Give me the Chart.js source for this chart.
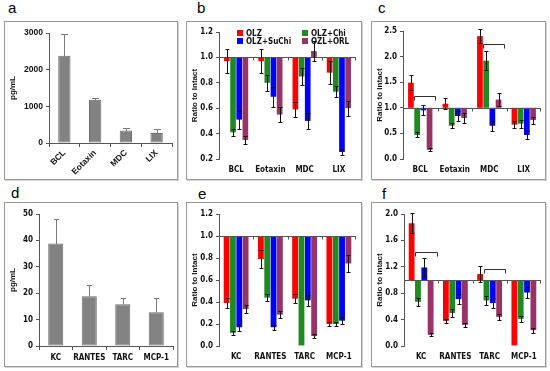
<!DOCTYPE html>
<html><head><meta charset="utf-8">
<script src="https://cdn.jsdelivr.net/npm/chart.js@4.4.0/dist/chart.umd.min.js"></script>
<style>
body{margin:0;background:#fff;width:550px;height:371px;position:relative;overflow:hidden;font-family:"Liberation Sans",Arial,sans-serif}
.box{position:absolute;border:1px solid #9a9a9a;box-sizing:border-box;box-shadow:1px 1px 0 #d4d4d4;background:#fff}
.box canvas{display:block}
.lab{position:absolute;font-size:15px;line-height:15px;color:#000}
</style></head><body>
<div class="lab" style="left:8px;top:0px">a</div>
<div class="lab" style="left:197px;top:0px">b</div>
<div class="lab" style="left:378px;top:0px">c</div>
<div class="lab" style="left:11px;top:185px">d</div>
<div class="lab" style="left:198px;top:186px">e</div>
<div class="lab" style="left:382px;top:186px">f</div>
<script>
// ---------- DATA ----------
const catTop = ['BCL', 'Eotaxin', 'MDC', 'LIX'];
const catBottom = ['KC', 'RANTES', 'TARC', 'MCP-1'];
const groups = ['OLZ', 'OLZ+Chi', 'OLZ+SuChi', 'OZL+ORL'];

const aValues = [2380, 1180, 340, 270];
const aErr = [590, 60, 60, 100];
const dValues = [38.8, 18.8, 15.8, 12.8];
const dErr = [9.2, 4.2, 2.2, 5.2];

// panel b (rows: OLZ, OLZ+Chi, OLZ+SuChi, OZL+ORL)
const bValues = [[0.97, 0.97, 0.59, 0.88], [0.41, 0.80, 0.85, 0.73], [0.51, 0.69, 0.50, 0.255], [0.35, 0.55, 1.05, 0.60]];
const bErr = [[0.095, 0.095, 0.06, 0.09], [0.03, 0.065, 0.07, 0.045], [0.07, 0.08, 0.06, 0.025], [0.035, 0.06, 0.08, 0.06]];
// panel c
const cValues = [[1.49, 1.08, 2.40, 0.67], [0.47, 0.65, 1.92, 0.69], [0.95, 0.84, 0.65, 0.47], [0.18, 0.80, 1.16, 0.76]];
const cErr = [[0.15, 0.11, 0.14, 0.07], [0.05, 0.05, 0.18, 0.08], [0.1, 0.1, 0.1, 0.07], [0.03, 0.09, 0.13, 0.07]];
// panel e
const eValues = [[0.39, 0.79, 0.43, 0.20], [0.12, 0.44, 0.005, 0.20], [0.17, 0.17, 0.415, 0.23], [0.335, 0.285, 0.09, 0.75]];
const eErr = [[0.045, 0.085, 0.04, 0.02], [0.02, 0.035, 0, 0.02], [0.03, 0.025, 0.05, 0.03], [0.035, 0.03, 0.015, 0.08]];
// panel f
const fValues = [[1.86, 0.38, 1.09, 0.0], [0.67, 0.50, 0.69, 0.41], [1.19, 0.71, 0.65, 0.81], [0.17, 0.32, 0.44, 0.24]];
const fErr = [[0.15, 0.03, 0.12, 0], [0.06, 0.06, 0.07, 0.04], [0.15, 0.08, 0.08, 0.09], [0.02, 0.03, 0.05, 0.04]];

// significance brackets: category index, from group, to group, height value
const cBrackets = [{cat: 0, from: 1, to: 3, y: 1.24}, {cat: 2, from: 1, to: 3, y: 2.25}];
const fBrackets = [{cat: 0, from: 1, to: 3, y: 1.43}, {cat: 2, from: 1, to: 3, y: 1.16}];

const yTicksA = {min: 0, max: 3000, step: 1000};
const yTicksB = {min: 0.2, max: 1.2, step: 0.2};
const yTicksC = {min: 0, max: 2.5, step: 0.5};
const yTicksD = {min: 0, max: 50, step: 10};
const yTicksE = {min: 0, max: 1.2, step: 0.2};
const yTicksF = {min: 0, max: 2.0, step: 0.4};

// ---------- STYLE ----------
const groupColors = ['#ff0000', '#1f8a1f', '#0000ff', '#993366'];
const NARROW = "'Liberation Sans Narrow','DejaVu Sans Condensed','Liberation Sans',Arial,sans-serif";
const WIDE = "'Liberation Sans',Arial,sans-serif";
const AX = '#555';
const TXT = '#111';

function makeBox(x, y, w, h) {
  const d = document.createElement('div');
  d.className = 'box';
  Object.assign(d.style, {left: x + 'px', top: y + 'px', width: w + 'px', height: h + 'px'});
  const c = document.createElement('canvas');
  c.width = w - 2; c.height = h - 2;
  c.style.width = (w - 2) + 'px'; c.style.height = (h - 2) + 'px';
  d.appendChild(c);
  document.body.appendChild(d);
  return c;
}

const errorBars = {
  id: 'errbars',
  afterDatasetsDraw(chart) {
    const ctx = chart.ctx, ys = chart.scales.y;
    chart.data.datasets.forEach((ds, di) => {
      if (!ds.err) return;
      const meta = chart.getDatasetMeta(di);
      meta.data.forEach((bar, i) => {
        const e = ds.err[i];
        if (!e) return;
        const raw = ds.data[i];
        const v = Array.isArray(raw) ? raw[1] : raw;
        const yT = Math.round(ys.getPixelForValue(v + e)) + 0.5;
        const yB = Math.round(ys.getPixelForValue(ds.upOnly ? v : v - e)) + 0.5;
        const x = Math.round(bar.x) + 0.5, cw = ds.capW;
        ctx.save();
        ctx.strokeStyle = ds.errColor; ctx.lineWidth = 1;
        ctx.beginPath();
        ctx.moveTo(x, yT); ctx.lineTo(x, yB);
        ctx.moveTo(x - cw / 2, yT); ctx.lineTo(x + cw / 2, yT);
        if (!ds.upOnly) { ctx.moveTo(x - cw / 2, yB); ctx.lineTo(x + cw / 2, yB); }
        ctx.stroke();
        ctx.restore();
      });
    });
  }
};

function baselinePlugin(value) {
  return {
    id: 'baseline',
    afterDatasetsDraw(chart) {
      const ctx = chart.ctx, ys = chart.scales.y, xs = chart.scales.x, ca = chart.chartArea;
      const y = Math.round(ys.getPixelForValue(value)) + 0.5;
      ctx.save();
      ctx.strokeStyle = AX; ctx.lineWidth = 1;
      ctx.beginPath();
      ctx.moveTo(ca.left, y); ctx.lineTo(ca.right, y);
      const n = chart.data.labels.length;
      for (let i = 1; i < n; i++) {
        const xb = Math.round((xs.getPixelForValue(i - 1) + xs.getPixelForValue(i)) / 2) + 0.5;
        ctx.moveTo(xb, y); ctx.lineTo(xb, y + 3);
      }
      ctx.moveTo(Math.round(ca.right) - 0.5, y); ctx.lineTo(Math.round(ca.right) - 0.5, y + 3);
      ctx.stroke();
      ctx.restore();
    }
  };
}

function bracketPlugin(items) {
  return {
    id: 'brackets',
    afterDatasetsDraw(chart) {
      const ctx = chart.ctx, ys = chart.scales.y;
      ctx.save();
      ctx.strokeStyle = '#333'; ctx.lineWidth = 1;
      items.forEach(b => {
        const b1 = chart.getDatasetMeta(b.from).data[b.cat];
        const b2 = chart.getDatasetMeta(b.to).data[b.cat];
        const x1 = Math.round(b1.x - b1.width / 2) + 0.5;
        const x2 = Math.round(b2.x + b2.width / 2 + 3) + 0.5;
        const y = Math.round(ys.getPixelForValue(b.y)) + 0.5;
        ctx.beginPath();
        ctx.moveTo(x1, y + 4); ctx.lineTo(x1, y); ctx.lineTo(x2, y); ctx.lineTo(x2, y + 4);
        ctx.stroke();
      });
      ctx.restore();
    }
  };
}

const insideLegend = {
  id: 'insideLegend',
  afterDraw(chart) {
    const ctx = chart.ctx, ca = chart.chartArea;
    ctx.save();
    ctx.font = "bold 8px " + NARROW;
    ctx.textBaseline = 'middle';
    chart.data.datasets.forEach((ds, i) => {
      const col = i % 2, row = Math.floor(i / 2);
      const x = ca.left + 18 + col * 65, y = ca.top + 1 + row * 8;
      ctx.fillStyle = ds.backgroundColor;
      ctx.fillRect(x, y - 3, 6, 6);
      ctx.fillStyle = TXT;
      ctx.fillText(ds.label, x + 9, y + 0.5);
    });
    ctx.restore();
  }
};

function yScale(t, pad, title, fmt, font) {
  return {
    min: t.min, max: t.max,
    ticks: {stepSize: t.step, font: font, color: TXT, padding: 3, callback: fmt},
    grid: {display: true, drawOnChartArea: false, drawTicks: true, tickLength: 3, tickColor: AX, color: AX},
    border: {display: true, color: AX},
    title: {display: true, text: title, color: TXT, font: {family: WIDE, size: 8, weight: 'bold'}, padding: {top: 3, bottom: 2}},
    afterFit: s => { s.width = pad.L; }
  };
}

function baseOptions(pad) {
  return {
    responsive: false, animation: false, devicePixelRatio: 1,
    layout: {padding: {top: pad.T, right: pad.R, left: 0, bottom: 0}},
    plugins: {legend: {display: false}, tooltip: {enabled: false}}
  };
}

function grayChart(canvas, labels, values, err, t, pad, rotate, xFont, yFont, barPct, capW) {
  const opts = baseOptions(pad);
  opts.scales = {
    x: {
      grid: {display: true, drawOnChartArea: false, drawTicks: true, tickLength: 4, color: AX, tickColor: AX, offset: true},
      border: {display: true, color: AX},
      ticks: {font: xFont, color: TXT, padding: rotate ? 1 : 3, autoSkip: false,
              maxRotation: rotate ? 45 : 0, minRotation: rotate ? 45 : 0},
      afterFit: s => { s.height = pad.B; }
    },
    y: yScale(t, pad, 'pg/mL', v => String(v), yFont)
  };
  return new Chart(canvas, {
    type: 'bar',
    data: {labels: labels, datasets: [{data: values, err: err, upOnly: true, capW: capW, errColor: '#7a7a7a',
      backgroundColor: '#828282', borderColor: '#6e6e6e', borderWidth: 1, borderSkipped: false,
      categoryPercentage: 1, barPercentage: barPct}]},
    options: opts,
    plugins: [errorBars]
  });
}

function ratioChart(canvas, labels, values, err, t, pad, extraPlugins, catPct) {
  const opts = baseOptions(pad);
  const font = {family: NARROW, size: 8, weight: 'bold'};
  opts.scales = {
    x: {
      grid: {display: false, drawTicks: false},
      border: {display: false},
      ticks: {font: font, color: TXT, padding: 6, autoSkip: false, maxRotation: 0},
      afterFit: s => { s.height = pad.B; }
    },
    y: yScale(t, pad, 'Ratio to Intact', v => v.toFixed(1), font)
  };
  const datasets = values.map((vals, gi) => ({
    label: groups[gi],
    data: vals.map(v => [1, v]),
    err: err[gi], capW: 4, errColor: '#111',
    backgroundColor: groupColors[gi], borderWidth: 0, borderSkipped: false,
    categoryPercentage: catPct, barPercentage: 0.92
  }));
  return new Chart(canvas, {
    type: 'bar',
    data: {labels: labels, datasets: datasets},
    options: opts,
    plugins: [baselinePlugin(1), errorBars].concat(extraPlugins)
  });
}

const fontA = {family: WIDE, size: 8.5, weight: 'bold'};
const fontD = {family: NARROW, size: 8, weight: 'bold'};

grayChart(makeBox(4, 21, 174, 159), catTop, aValues, aErr, yTicksA, {L: 44, T: 11, R: 5, B: 36}, true, fontA, fontA, 0.4, 7);
ratioChart(makeBox(186, 21, 176, 159), catTop, bValues, bErr, yTicksB, {L: 32, T: 10, R: 5, B: 20}, [insideLegend], 0.72);
ratioChart(makeBox(371, 21, 175, 159), catTop, cValues, cErr, yTicksC, {L: 31, T: 9, R: 4, B: 20}, [bracketPlugin(cBrackets)], 0.72);
grayChart(makeBox(4, 202, 174, 165), catBottom, dValues, dErr, yTicksD, {L: 34, T: 11, R: 4, B: 20}, false, fontD, fontD, 0.45, 5);
ratioChart(makeBox(186, 202, 176, 165), catBottom, eValues, eErr, yTicksE, {L: 32, T: 11, R: 5, B: 20}, [], 0.74);
ratioChart(makeBox(371, 202, 175, 165), catBottom, fValues, fErr, yTicksF, {L: 32, T: 11, R: 4, B: 20}, [bracketPlugin(fBrackets)], 0.74);
</script>
</body></html>
